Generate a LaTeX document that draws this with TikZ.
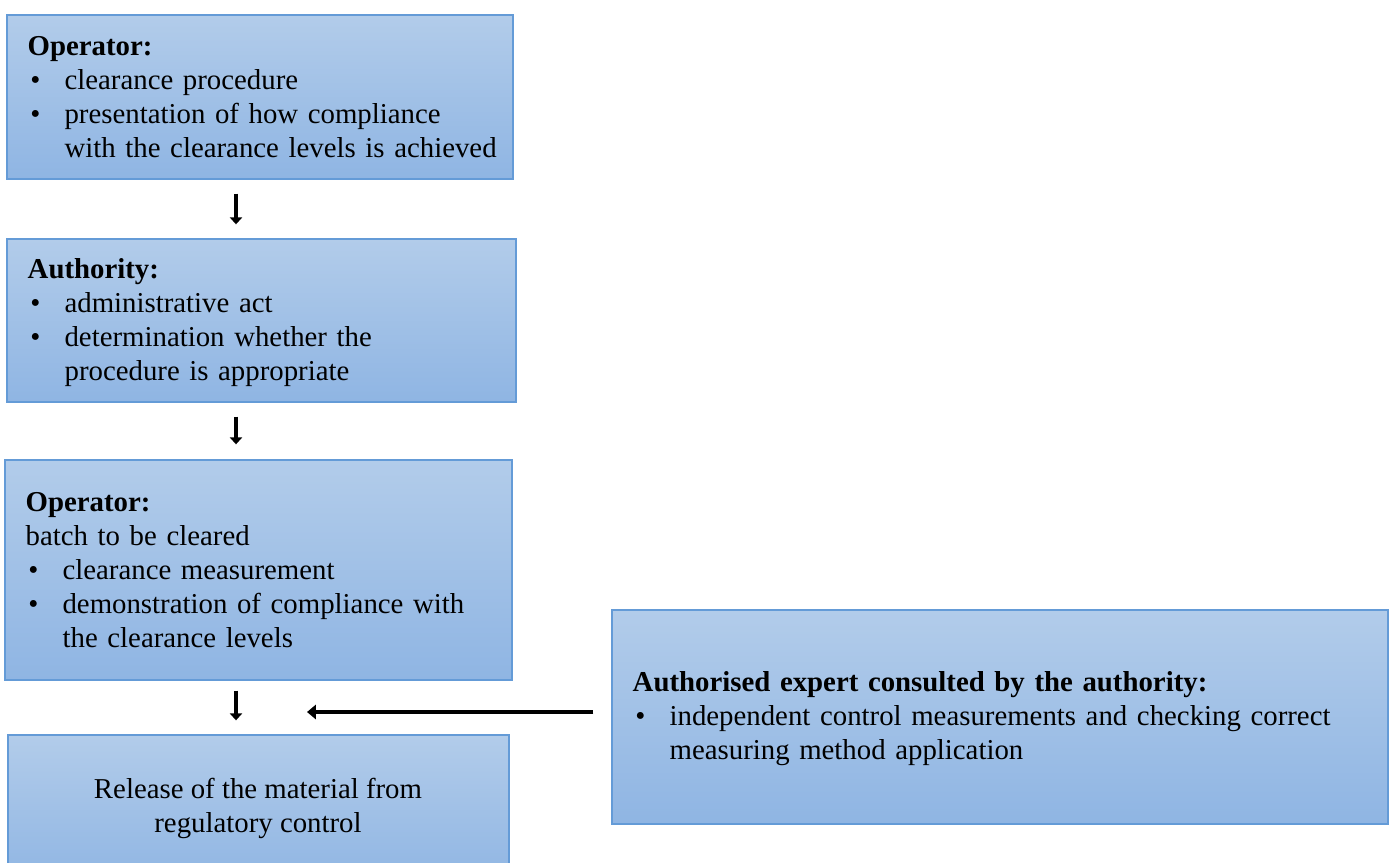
\documentclass[tikz,border=0pt]{standalone}
\usepackage{fontspec}
\setmainfont{Liberation Serif}
\usetikzlibrary{arrows.meta,calc}
\definecolor{boxtop}{RGB}{178,204,234}
\definecolor{boxbot}{RGB}{143,181,227}
\definecolor{boxline}{RGB}{100,155,215}
\newcommand{\bitem}[1]{\par\noindent\makebox[21pt][l]{\hspace{1.5pt}\textbullet}#1}
\newcommand{\bcont}[1]{\par\noindent\hspace*{21pt}#1}
\begin{document}
\begin{tikzpicture}[x=0.02cm,y=-0.02cm,
  box/.style={draw=boxline,line width=0.8pt,top color=boxtop,bottom color=boxbot,rectangle,inner sep=0pt},
  txt/.style={anchor=west,inner sep=0pt,text width=12cm,align=left,font=\fontsize{16.4}{19.4}\selectfont},
  arr/.style={line width=2.4pt,-{Triangle[width=7pt,length=4pt]}},
  harr/.style={line width=2.8pt,-{Triangle[width=8pt,length=5pt]}}]
\useasboundingbox (0,0) rectangle (1391,862);
% boxes
\node[box,minimum width=10.12cm,minimum height=3.28cm] (op1) at (260,97) {};
\node[box,minimum width=10.18cm,minimum height=3.26cm] (auth) at (261.5,320.5) {};
\node[box,minimum width=10.14cm,minimum height=4.4cm] (op2) at (258.5,570) {};
\node[box,minimum width=10.02cm,minimum height=3.0cm] (rel) at (258.5,810) {};
\node[box,minimum width=15.52cm,minimum height=4.28cm] (exp) at (1000,717) {};
% texts
\node[txt] (op1t) at ($(op1.west)+(21,0)$) {\textbf{Operator:}
\bitem{clearance procedure}
\bitem{presentation of how compliance}
\bcont{with the clearance levels is achieved}};
\node[txt] (autht) at ($(auth.west)+(21,2)$) {\textbf{Authority:}
\bitem{administrative act}
\bitem{determination whether the}
\bcont{procedure is appropriate}};
\node[txt] (op2t) at ($(op2.west)+(21,0)$) {\textbf{Operator:}\par\noindent batch to be cleared
\bitem{clearance measurement}
\bitem{demonstration of compliance with}
\bcont{the clearance levels}};
\node[anchor=center,inner sep=0pt,align=center,font=\fontsize{16.4}{19.4}\selectfont] (relt) at (258,808) {Release of the material from\\regulatory control};
\node[txt,text width=14.5cm] (expt) at ($(exp.west)+(21,2)$) {\textbf{Authorised expert consulted by the authority:}
\bitem{independent control measurements and checking correct}
\bcont{measuring method application}};
% connectors
\coordinate (tgt) at (307,712);
\draw[arr] ($(op1.south)+(-24,14)$) -- ($(auth.north)+(-25.5,-14)$);
\draw[arr] ($(auth.south)+(-25.5,14)$) -- ($(op2.north)+(-22.5,-15)$);
\draw[arr] ($(op2.south)+(-22.5,10)$) -- ($(rel.north)+(-22.5,-14)$);
\draw[harr] ($(exp.west)+(-18,-5)$) -- (tgt);
\end{tikzpicture}
\end{document}
